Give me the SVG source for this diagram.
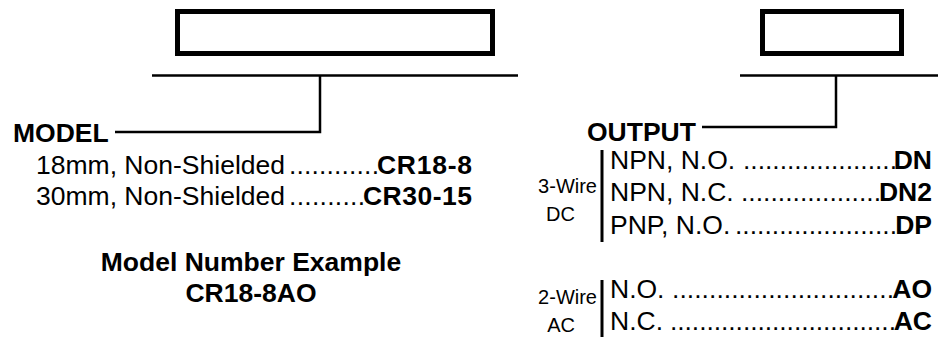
<svg xmlns="http://www.w3.org/2000/svg" width="946" height="337" viewBox="0 0 946 337">
<style>
text{font-family:"Liberation Sans",Arial,Helvetica,sans-serif;font-size:26.5px;fill:#000}
.b{font-weight:bold}
.s{font-size:20px}
.box{fill:#fff;stroke:#000;stroke-width:5}
.ln{fill:none;stroke:#000;stroke-width:2.5}
.bar{fill:none;stroke:#000;stroke-width:3}
</style>
<rect width="946" height="337" fill="#fff"/>
<g id="model-box"><rect class="box" x="177.5" y="11.5" width="315" height="42"/></g>
<g id="output-box"><rect class="box" x="762.5" y="11.5" width="139" height="42"/></g>
<g id="connectors">
<line class="ln" x1="152" y1="75.5" x2="518" y2="75.5"/>
<polyline class="ln" points="320,75.5 320,132 115,132"/>
<line class="ln" x1="740" y1="75.5" x2="938" y2="75.5"/>
<polyline class="ln" points="836,75.5 836,127 702,127"/>
</g>
<g id="model-label"><text class="b" x="13" y="142">MODEL</text></g>
<g id="model-options">
<text x="36" y="174" textLength="249">18mm, Non-Shielded</text>
<text x="289" y="174" textLength="90">............</text>
<text class="b" x="377" y="174" textLength="95">CR18-8</text>
<text x="36" y="205" textLength="249">30mm, Non-Shielded</text>
<text x="289" y="205" textLength="76">..........</text>
<text class="b" x="363" y="205" textLength="109">CR30-15</text>
</g>
<g id="example">
<text class="b" x="251" y="271" text-anchor="middle">Model Number Example</text>
<text class="b" x="251" y="302" text-anchor="middle">CR18-8AO</text>
</g>
<g id="output-label"><text class="b" x="587" y="141">OUTPUT</text></g>
<g id="dc-group">
<text class="s" x="597" y="193" text-anchor="end">3-Wire</text>
<text class="s" x="575" y="221" text-anchor="end">DC</text>
<line class="bar" x1="602" y1="150" x2="602" y2="242"/>
<text x="610" y="169">NPN, N.O.</text>
<text x="743" y="169" textLength="154">.....................</text>
<text class="b" x="932" y="169" text-anchor="end">DN</text>
<text x="610" y="201">NPN, N.C.</text>
<text x="741" y="201" textLength="140">...................</text>
<text class="b" x="932" y="201" text-anchor="end">DN2</text>
<text x="610" y="234">PNP, N.O.</text>
<text x="735" y="234" textLength="162">......................</text>
<text class="b" x="932" y="234" text-anchor="end">DP</text>
</g>
<g id="ac-group">
<text class="s" x="597" y="304" text-anchor="end">2-Wire</text>
<text class="s" x="575" y="332" text-anchor="end">AC</text>
<line class="bar" x1="602" y1="280" x2="602" y2="337"/>
<text x="610" y="298">N.O.</text>
<text x="672" y="298" textLength="222">..............................</text>
<text class="b" x="932" y="298" text-anchor="end">AO</text>
<text x="610" y="330">N.C.</text>
<text x="670" y="330" textLength="226">...............................</text>
<text class="b" x="932" y="330" text-anchor="end">AC</text>
</g>
</svg>
